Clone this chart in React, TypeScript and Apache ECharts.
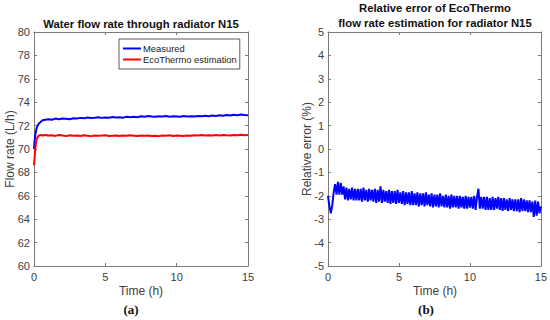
import React, { useEffect, useRef } from "react";
import * as echarts from "echarts";

const flowTime = [0, 0.05, 0.1, 0.15, 0.2, 0.3, 0.4, 0.5, 0.6, 0.8, 1.0,
  1.25, 1.5, 1.75, 2.0, 2.25, 2.5, 2.75, 3.0, 3.25, 3.5, 3.75, 4.0, 4.25, 4.5, 4.75, 5.0,
  5.25, 5.5, 5.75, 6.0, 6.25, 6.5, 6.75, 7.0, 7.25, 7.5, 7.75, 8.0, 8.25, 8.5, 8.75, 9.0,
  9.25, 9.5, 9.75, 10.0, 10.25, 10.5, 10.75, 11.0, 11.25, 11.5, 11.75, 12.0, 12.25, 12.5,
  12.75, 13.0, 13.25, 13.5, 13.75, 14.0, 14.25, 14.5, 14.75, 15.0];

const measured = [70.0, 70.8, 71.3, 71.6, 71.85, 72.1, 72.25, 72.35, 72.45, 72.5, 72.55,
  72.5, 72.6, 72.55, 72.6, 72.58, 72.55, 72.62, 72.6, 72.66, 72.62, 72.7, 72.65, 72.68, 72.72,
  72.66, 72.7, 72.68, 72.74, 72.7, 72.72, 72.68, 72.75, 72.72, 72.76, 72.72, 72.8, 72.76, 72.82,
  72.78, 72.76, 72.8, 72.78, 72.82, 72.76, 72.8, 72.78, 72.76, 72.82, 72.78, 72.8, 72.78, 72.82,
  72.8, 72.84, 72.8, 72.86, 72.82, 72.88, 72.84, 72.9, 72.86, 72.92, 72.88, 72.94, 72.9, 72.88];

const estimation = [68.6, 69.4, 70.1, 70.6, 70.9, 71.1, 71.18, 71.2, 71.15, 71.2, 71.15,
  71.18, 71.12, 71.2, 71.15, 71.1, 71.18, 71.14, 71.16, 71.12, 71.17,
  71.14, 71.1, 71.16, 71.13, 71.15, 71.18, 71.12, 71.14, 71.16, 71.12,
  71.15, 71.13, 71.17, 71.14, 71.11, 71.15, 71.13, 71.16, 71.12, 71.14,
  71.1, 71.15, 71.13, 71.17, 71.12, 71.15, 71.14, 71.12, 71.16, 71.13,
  71.18, 71.15, 71.2, 71.16, 71.18, 71.15, 71.19, 71.16, 71.2, 71.17,
  71.15, 71.2, 71.18, 71.21, 71.17, 71.2];

const errTime = [0.0, 0.1, 0.2, 0.3, 0.4, 0.5, 0.6, 0.7, 0.8, 0.9, 1.0,
  1.1, 1.2, 1.3, 1.4, 1.5, 1.6, 1.7, 1.8, 1.9, 2.0,
  2.1, 2.2, 2.3, 2.4, 2.5, 2.6, 2.7, 2.8, 2.9, 3.0,
  3.1, 3.2, 3.3, 3.4, 3.5, 3.6, 3.7, 3.8, 3.9, 4.0,
  4.1, 4.2, 4.3, 4.4, 4.5, 4.6, 4.7, 4.8, 4.9, 5.0,
  5.1, 5.2, 5.3, 5.4, 5.5, 5.6, 5.7, 5.8, 5.9, 6.0,
  6.1, 6.2, 6.3, 6.4, 6.5, 6.6, 6.7, 6.8, 6.9, 7.0,
  7.1, 7.2, 7.3, 7.4, 7.5, 7.6, 7.7, 7.8, 7.9, 8.0,
  8.1, 8.2, 8.3, 8.4, 8.5, 8.6, 8.7, 8.8, 8.9, 9.0,
  9.1, 9.2, 9.3, 9.4, 9.5, 9.6, 9.7, 9.8, 9.9, 10.0,
  10.1, 10.2, 10.3, 10.4, 10.5, 10.6, 10.7, 10.8, 10.9, 11.0,
  11.1, 11.2, 11.3, 11.4, 11.5, 11.6, 11.7, 11.8, 11.9, 12.0,
  12.1, 12.2, 12.3, 12.4, 12.5, 12.6, 12.7, 12.8, 12.9, 13.0,
  13.1, 13.2, 13.3, 13.4, 13.5, 13.6, 13.7, 13.8, 13.9, 14.0,
  14.1, 14.2, 14.3, 14.4, 14.5, 14.6, 14.7, 14.8, 14.9, 15.0];

const relError = [-2.0, -2.45, -2.75, -2.4, -1.85, -1.5, -1.95, -1.4, -1.95, -1.45, -1.95,
  -1.6, -2.15, -1.65, -2.2, -1.7, -2.15, -1.65, -2.2, -1.7, -2.2,
  -1.7, -2.2, -1.7, -2.25, -1.65, -2.2, -1.75, -2.25, -1.7, -2.2,
  -1.75, -2.25, -1.7, -2.3, -1.75, -2.25, -1.6, -2.3, -1.75, -2.25,
  -1.8, -2.3, -1.75, -2.35, -1.8, -2.3, -1.8, -2.35, -1.75, -2.3,
  -1.85, -2.35, -1.8, -2.4, -1.85, -2.35, -1.85, -2.4, -1.8, -2.4,
  -1.9, -2.4, -1.85, -2.45, -1.9, -2.4, -1.9, -2.45, -1.85, -2.4,
  -1.95, -2.45, -1.9, -2.5, -1.95, -2.45, -1.95, -2.5, -1.9, -2.45,
  -2.0, -2.5, -1.95, -2.5, -2.0, -2.55, -1.95, -2.5, -2.0, -2.5,
  -2.0, -2.55, -2.0, -2.5, -2.05, -2.55, -2.0, -2.55, -2.05, -2.5,
  -2.05, -2.55, -2.0, -2.6, -2.05, -1.7, -2.55, -2.05, -2.55, -2.05,
  -2.6, -2.05, -2.6, -2.1, -2.6, -2.05, -2.6, -2.1, -2.55, -2.05,
  -2.6, -2.1, -2.65, -2.1, -2.6, -2.15, -2.65, -2.1, -2.6, -2.15,
  -2.65, -2.15, -2.65, -2.15, -2.7, -2.1, -2.65, -2.15, -2.65, -2.2,
  -2.7, -2.2, -2.7, -2.25, -2.9, -2.2, -2.85, -2.25, -2.75, -2.45];

const FONT = "'Liberation Sans', Arial, sans-serif";
const AXIS_COLOR = "#7a7a7a";
const LABEL_COLOR = "#404040";

function mkX(gridIndex: number, pos: "bottom" | "top") {
  return {
    type: "value",
    gridIndex,
    position: pos,
    min: 0,
    max: 15,
    interval: 5,
    splitLine: { show: false },
    axisLine: { show: true, onZero: false, lineStyle: { color: AXIS_COLOR, width: 1 } },
    axisTick: { show: true, inside: true, length: 3, lineStyle: { color: AXIS_COLOR } },
    axisLabel: {
      show: pos === "bottom",
      color: LABEL_COLOR,
      fontSize: 11,
      fontFamily: FONT,
      margin: 5,
    },
  };
}

function mkY(gridIndex: number, pos: "left" | "right", min: number, max: number, interval: number) {
  return {
    type: "value",
    gridIndex,
    position: pos,
    min,
    max,
    interval,
    splitLine: { show: false },
    axisLine: { show: true, onZero: false, lineStyle: { color: AXIS_COLOR, width: 1 } },
    axisTick: { show: true, inside: true, length: 3, lineStyle: { color: AXIS_COLOR } },
    axisLabel: {
      show: pos === "left",
      color: LABEL_COLOR,
      fontSize: 11,
      fontFamily: FONT,
      margin: 4,
    },
  };
}

function txt(text: string, x: number, y: number, opts: any = {}) {
  return {
    type: "text",
    x,
    y,
    rotation: opts.rotation || 0,
    style: {
      text,
      fontSize: opts.fontSize || 12,
      fontWeight: opts.fontWeight || "normal",
      fontFamily: opts.fontFamily || FONT,
      fill: opts.fill || LABEL_COLOR,
      textAlign: "center",
      textVerticalAlign: "middle",
    },
  };
}

export default function App() {
  const ref = useRef<HTMLDivElement>(null);
  useEffect(() => {
    if (!ref.current) return;
    const chart = echarts.init(ref.current, undefined, { renderer: "svg" });
    const measuredData = flowTime.map((t, i) => [t, measured[i]]);
    const estData = flowTime.map((t, i) => [t, estimation[i]]);
    const errData = errTime.map((t, i) => [t, relError[i]]);
    const titleOpts = { fontSize: 11.3, fontWeight: "bold", fill: "#111111" };
    const serif = { fontSize: 13, fontWeight: "bold", fill: "#111111", fontFamily: "'Liberation Serif', 'DejaVu Serif', serif" };
    chart.setOption({
      animation: false,
      backgroundColor: "#ffffff",
      grid: [
        { left: 34, right: 302, top: 32, bottom: 54, containLabel: false },
        { left: 328, right: 9, top: 32, bottom: 54, containLabel: false },
      ],
      xAxis: [mkX(0, "bottom"), mkX(0, "top"), mkX(1, "bottom"), mkX(1, "top")],
      yAxis: [
        mkY(0, "left", 60, 80, 2),
        mkY(0, "right", 60, 80, 2),
        mkY(1, "left", -5, 5, 1),
        mkY(1, "right", -5, 5, 1),
      ],
      legend: {
        show: true,
        left: 119,
        top: 39,
        orient: "vertical",
        data: ["Measured", "EcoThermo estimation"],
        backgroundColor: "#ffffff",
        borderColor: "#333333",
        borderWidth: 0.8,
        padding: [4, 3, 4, 4],
        itemGap: 0,
        itemWidth: 18,
        itemHeight: 2,
        icon: "rect",
        textStyle: { fontSize: 9.4, lineHeight: 11, fontFamily: FONT, color: "#222222", padding: [0, 0, 0, -3] },
      },
      series: [
        {
          name: "Measured",
          type: "line",
          xAxisIndex: 0,
          yAxisIndex: 0,
          data: measuredData,
          showSymbol: false,
          lineStyle: { color: "#0000ff", width: 2 },
          itemStyle: { color: "#0000ff" },
        },
        {
          name: "EcoThermo estimation",
          type: "line",
          xAxisIndex: 0,
          yAxisIndex: 0,
          data: estData,
          showSymbol: false,
          lineStyle: { color: "#ff0000", width: 2 },
          itemStyle: { color: "#ff0000" },
        },
        {
          name: "Relative error",
          type: "line",
          xAxisIndex: 2,
          yAxisIndex: 2,
          data: errData,
          showSymbol: false,
          lineStyle: { color: "#0000ff", width: 2 },
          itemStyle: { color: "#0000ff" },
        },
      ],
      graphic: [
        txt("Water flow rate through radiator N15", 141, 24, titleOpts),
        txt("Relative error of EcoThermo", 435, 8, titleOpts),
        txt("flow rate estimation for radiator N15", 435, 23, titleOpts),
        txt("Flow rate (L/h)", 10, 149, { rotation: Math.PI / 2 }),
        txt("Relative error (%)", 307, 149, { rotation: Math.PI / 2 }),
        txt("Time (h)", 141, 291),
        txt("Time (h)", 435, 291),
        txt("(a)", 131, 309, serif),
        txt("(b)", 426, 309, serif),
      ],
    });
    return () => chart.dispose();
  }, []);
  return (
    <div
      ref={ref}
      style={{ position: "fixed", left: 0, top: 0, width: 550, height: 320, background: "#fff" }}
    />
  );
}
